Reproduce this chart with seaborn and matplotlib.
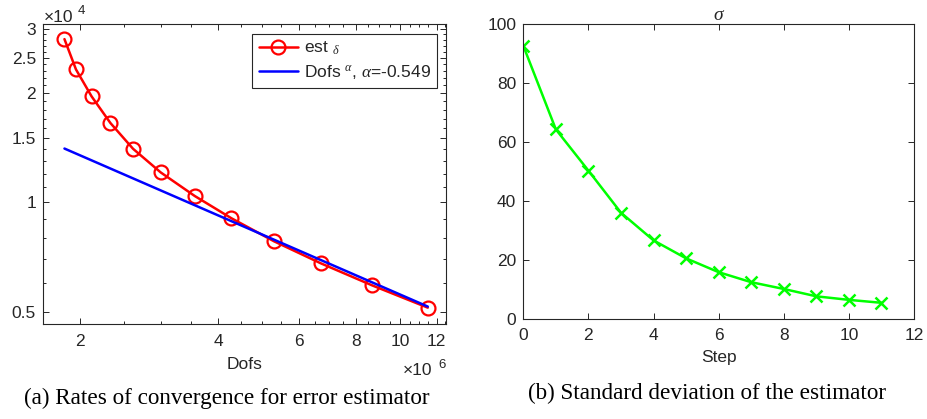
import numpy as np
import pandas as pd
import matplotlib
matplotlib.use("Agg")
import matplotlib.pyplot as plt
import matplotlib.ticker as mticker
import seaborn as sns

# Convergence data: degrees of freedom and error estimator
dofs = [1.85e6, 1.96e6, 2.12e6, 2.33e6, 2.61e6, 3.00e6, 3.56e6,
        4.28e6, 5.30e6, 6.70e6, 8.67e6, 11.47e6]
est_delta = [28150, 23230, 19580, 16540, 14050, 12090, 10410,
             9040, 7813, 6797, 5910, 5130]
alpha = -0.549
fit_coef = 3.88e7

# Standard deviation of the estimator per step
steps = [0, 1, 2, 3, 4, 5, 6, 7, 8, 9, 10, 11]
sigma = [92.7, 64.3, 50.3, 36.0, 26.6, 20.5, 15.8, 12.4, 10.1, 7.6, 6.4, 5.4]

x_ticks = [2e6, 4e6, 6e6, 8e6, 10e6, 12e6]
x_ticklabels = ["2", "4", "6", "8", "10", "12"]
y_ticks = [5000, 10000, 15000, 20000, 25000, 30000]
y_ticklabels = ["0.5", "1", "1.5", "2", "2.5", "3"]

sns.set_theme(style="ticks")
plt.rcParams["font.family"] = ["Liberation Sans", "DejaVu Sans"]
plt.rcParams["mathtext.fontset"] = "custom"
plt.rcParams["mathtext.rm"] = "Liberation Sans"
plt.rcParams["mathtext.it"] = "Liberation Serif:italic"

axis_grey = (0.15, 0.15, 0.15)
fs = 12.5

fig = plt.figure(figsize=(9.27, 4.19), dpi=100)
W, H = 927, 419


def px_axes(x0, y0, x1, y1):
    return fig.add_axes([x0 / W, 1 - y1 / H, (x1 - x0) / W, (y1 - y0) / H])


def style_axes(ax):
    for s in ax.spines.values():
        s.set_color(axis_grey)
        s.set_linewidth(0.8)
    ax.tick_params(which="both", direction="in", top=True, right=True,
                   color=axis_grey, labelcolor=axis_grey, labelsize=fs,
                   width=0.7)
    ax.tick_params(which="major", length=4.5)
    ax.tick_params(which="minor", length=2.5)
    ax.tick_params(axis="x", pad=7)
    ax.tick_params(axis="y", pad=5)


# ---- (a) rates of convergence ----
ax1 = px_axes(43, 24, 446, 324)
ax1.set_xscale("log")
ax1.set_yscale("log")
conv = pd.DataFrame({"dofs": dofs, "est": est_delta})
conv["fit"] = fit_coef * conv["dofs"] ** alpha

sns.lineplot(data=conv, x="dofs", y="est", ax=ax1, color="red", marker="o",
             markersize=10, markerfacecolor="none", markeredgecolor="red",
             markeredgewidth=1.6, linewidth=1.8, label=r"est $_{\delta}$")
sns.lineplot(data=conv, x="dofs", y="fit", ax=ax1, color=(0, 0, 1),
             linewidth=1.8, label=r"Dofs $^{\alpha}$, $\alpha$=-0.549")

ax1.set_xlim(1.661e6, 12.57e6)
ax1.set_ylim(4625, 30980)
ax1.xaxis.set_major_locator(mticker.FixedLocator(x_ticks))
ax1.xaxis.set_major_formatter(mticker.FixedFormatter(x_ticklabels))
ax1.xaxis.set_minor_locator(mticker.FixedLocator(np.arange(1.5e6, 13e6, 0.5e6)))
ax1.xaxis.set_minor_formatter(mticker.NullFormatter())
ax1.yaxis.set_major_locator(mticker.FixedLocator(y_ticks))
ax1.yaxis.set_major_formatter(mticker.FixedFormatter(y_ticklabels))
ax1.yaxis.set_minor_locator(mticker.FixedLocator(np.arange(5000, 31000, 1000)))
ax1.yaxis.set_minor_formatter(mticker.NullFormatter())
style_axes(ax1)
ax1.set_xlabel("Dofs", fontsize=fs, color=axis_grey, labelpad=6)
ax1.set_ylabel("")

leg = ax1.legend(loc="upper right", bbox_to_anchor=(0.977, 0.967),
                 fontsize=fs, fancybox=False, framealpha=1,
                 edgecolor=axis_grey, handlelength=2.3, borderpad=0.35,
                 labelspacing=0.35, handletextpad=0.3, borderaxespad=0)
leg.get_frame().set_linewidth(0.8)

# exponent markers
fig.text(44 / W, 1 - 21.5 / H, "×10", fontsize=fs, color=axis_grey,
         ha="left", va="baseline")
fig.text(78 / W, 1 - 14.5 / H, "4", fontsize=9.5, color=axis_grey,
         ha="left", va="baseline")
fig.text(403 / W, 1 - 375 / H, "×10", fontsize=fs, color=axis_grey,
         ha="left", va="baseline")
fig.text(438 / W, 1 - 368 / H, "6", fontsize=9.5, color=axis_grey,
         ha="left", va="baseline")

# ---- (b) standard deviation ----
ax2 = px_axes(523.3, 24.3, 914, 318.7)
sd = pd.DataFrame({"step": steps, "sigma": sigma})
sns.lineplot(data=sd, x="step", y="sigma", ax=ax2, color=(0, 1, 0),
             marker="x", markersize=8, markeredgewidth=1.8,
             markeredgecolor=(0, 1, 0), linewidth=1.8)
ax2.set_xlim(0, 12)
ax2.set_ylim(0, 100)
ax2.set_xticks(range(0, 13, 2))
ax2.set_yticks(range(0, 101, 20))
style_axes(ax2)
ax2.set_xlabel("Step", fontsize=fs, color=axis_grey, labelpad=5)
ax2.set_ylabel("")
ax2.set_title(r"$\sigma$", fontsize=fs + 1.5, color=axis_grey, pad=3)

# captions
fig.text(226.5 / W, 1 - 398 / H, "(a) Rates of convergence for error estimator",
         fontsize=16.7, family="Liberation Serif", ha="center", va="center",
         color="black")
fig.text(707.5 / W, 1 - 393 / H, "(b) Standard deviation of the estimator",
         fontsize=16.7, family="Liberation Serif", ha="center", va="center",
         color="black")

fig.savefig("out.png", dpi=100)
